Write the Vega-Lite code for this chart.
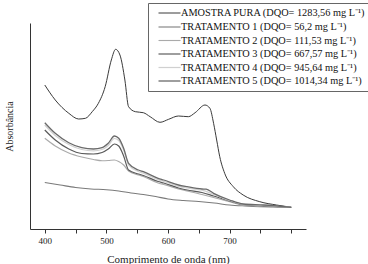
{
  "$schema": "https://vega.github.io/schema/vega-lite/v6.json",
  "width": 276,
  "height": 206,
  "autosize": "none",
  "padding": {"left": 30, "top": 23, "right": 62, "bottom": 35},
  "background": "white",
  "config": {
    "view": {"stroke": null},
    "font": "Liberation Serif",
    "axis": {"domainColor": "#333", "tickColor": "#333", "labelColor": "#222", "titleColor": "#222", "grid": false, "labelFont": "Liberation Serif", "titleFont": "Liberation Serif", "titleFontWeight": "normal"}
  },
  "data": {
    "values": [
      {"s": "A", "nm": 400, "v": 1.44}, {"s": "A", "nm": 417, "v": 1.29}, {"s": "A", "nm": 439, "v": 1.157}, {"s": "A", "nm": 455, "v": 1.10}, {"s": "A", "nm": 466, "v": 1.107}, {"s": "A", "nm": 477, "v": 1.173}, {"s": "A", "nm": 487, "v": 1.257}, {"s": "A", "nm": 498, "v": 1.423}, {"s": "A", "nm": 508, "v": 1.69}, {"s": "A", "nm": 515, "v": 1.797}, {"s": "A", "nm": 522, "v": 1.74}, {"s": "A", "nm": 530, "v": 1.49}, {"s": "A", "nm": 536, "v": 1.223}, {"s": "A", "nm": 547, "v": 1.173}, {"s": "A", "nm": 560, "v": 1.163}, {"s": "A", "nm": 571, "v": 1.123}, {"s": "A", "nm": 587, "v": 1.067}, {"s": "A", "nm": 601, "v": 1.097}, {"s": "A", "nm": 617, "v": 1.13}, {"s": "A", "nm": 633, "v": 1.123}, {"s": "A", "nm": 644, "v": 1.163}, {"s": "A", "nm": 660, "v": 1.24}, {"s": "A", "nm": 668, "v": 1.207}, {"s": "A", "nm": 674, "v": 1.057}, {"s": "A", "nm": 679, "v": 0.89}, {"s": "A", "nm": 684, "v": 0.723}, {"s": "A", "nm": 692, "v": 0.557}, {"s": "A", "nm": 706, "v": 0.423}, {"s": "A", "nm": 722, "v": 0.34}, {"s": "A", "nm": 749, "v": 0.273}, {"s": "A", "nm": 776, "v": 0.24}, {"s": "A", "nm": 800, "v": 0.217},

      {"s": "T1", "nm": 400, "v": 0.465}, {"s": "T1", "nm": 425, "v": 0.44}, {"s": "T1", "nm": 450, "v": 0.415}, {"s": "T1", "nm": 475, "v": 0.40}, {"s": "T1", "nm": 500, "v": 0.393}, {"s": "T1", "nm": 520, "v": 0.38}, {"s": "T1", "nm": 540, "v": 0.36}, {"s": "T1", "nm": 560, "v": 0.345}, {"s": "T1", "nm": 580, "v": 0.325}, {"s": "T1", "nm": 600, "v": 0.30}, {"s": "T1", "nm": 625, "v": 0.285}, {"s": "T1", "nm": 650, "v": 0.275}, {"s": "T1", "nm": 675, "v": 0.26}, {"s": "T1", "nm": 700, "v": 0.24}, {"s": "T1", "nm": 725, "v": 0.23}, {"s": "T1", "nm": 750, "v": 0.223}, {"s": "T1", "nm": 775, "v": 0.22}, {"s": "T1", "nm": 800, "v": 0.217},

      {"s": "T2", "nm": 400, "v": 0.907}, {"s": "T2", "nm": 417, "v": 0.83}, {"s": "T2", "nm": 439, "v": 0.76}, {"s": "T2", "nm": 460, "v": 0.72}, {"s": "T2", "nm": 479, "v": 0.695}, {"s": "T2", "nm": 493, "v": 0.683}, {"s": "T2", "nm": 503, "v": 0.685}, {"s": "T2", "nm": 513, "v": 0.69}, {"s": "T2", "nm": 520, "v": 0.675}, {"s": "T2", "nm": 528, "v": 0.64}, {"s": "T2", "nm": 536, "v": 0.58}, {"s": "T2", "nm": 552, "v": 0.54}, {"s": "T2", "nm": 560, "v": 0.525}, {"s": "T2", "nm": 584, "v": 0.46}, {"s": "T2", "nm": 593, "v": 0.445}, {"s": "T2", "nm": 617, "v": 0.40}, {"s": "T2", "nm": 631, "v": 0.38}, {"s": "T2", "nm": 655, "v": 0.345}, {"s": "T2", "nm": 674, "v": 0.315}, {"s": "T2", "nm": 700, "v": 0.273}, {"s": "T2", "nm": 722, "v": 0.24}, {"s": "T2", "nm": 755, "v": 0.228}, {"s": "T2", "nm": 800, "v": 0.217},

      {"s": "T3", "nm": 400, "v": 0.99}, {"s": "T3", "nm": 417, "v": 0.89}, {"s": "T3", "nm": 439, "v": 0.80}, {"s": "T3", "nm": 460, "v": 0.755}, {"s": "T3", "nm": 479, "v": 0.75}, {"s": "T3", "nm": 493, "v": 0.765}, {"s": "T3", "nm": 503, "v": 0.80}, {"s": "T3", "nm": 513, "v": 0.85}, {"s": "T3", "nm": 520, "v": 0.83}, {"s": "T3", "nm": 528, "v": 0.73}, {"s": "T3", "nm": 536, "v": 0.59}, {"s": "T3", "nm": 552, "v": 0.55}, {"s": "T3", "nm": 560, "v": 0.535}, {"s": "T3", "nm": 584, "v": 0.475}, {"s": "T3", "nm": 593, "v": 0.46}, {"s": "T3", "nm": 617, "v": 0.41}, {"s": "T3", "nm": 631, "v": 0.39}, {"s": "T3", "nm": 655, "v": 0.365}, {"s": "T3", "nm": 674, "v": 0.33}, {"s": "T3", "nm": 700, "v": 0.28}, {"s": "T3", "nm": 722, "v": 0.245}, {"s": "T3", "nm": 755, "v": 0.232}, {"s": "T3", "nm": 800, "v": 0.217},

      {"s": "T4", "nm": 400, "v": 1.04}, {"s": "T4", "nm": 417, "v": 0.935}, {"s": "T4", "nm": 439, "v": 0.845}, {"s": "T4", "nm": 460, "v": 0.795}, {"s": "T4", "nm": 479, "v": 0.782}, {"s": "T4", "nm": 493, "v": 0.795}, {"s": "T4", "nm": 503, "v": 0.835}, {"s": "T4", "nm": 513, "v": 0.905}, {"s": "T4", "nm": 520, "v": 0.885}, {"s": "T4", "nm": 528, "v": 0.79}, {"s": "T4", "nm": 536, "v": 0.64}, {"s": "T4", "nm": 552, "v": 0.575}, {"s": "T4", "nm": 560, "v": 0.558}, {"s": "T4", "nm": 584, "v": 0.493}, {"s": "T4", "nm": 593, "v": 0.477}, {"s": "T4", "nm": 617, "v": 0.427}, {"s": "T4", "nm": 631, "v": 0.41}, {"s": "T4", "nm": 655, "v": 0.388}, {"s": "T4", "nm": 674, "v": 0.347}, {"s": "T4", "nm": 700, "v": 0.285}, {"s": "T4", "nm": 722, "v": 0.248}, {"s": "T4", "nm": 755, "v": 0.236}, {"s": "T4", "nm": 800, "v": 0.217},

      {"s": "T5", "nm": 400, "v": 1.063}, {"s": "T5", "nm": 417, "v": 0.957}, {"s": "T5", "nm": 439, "v": 0.863}, {"s": "T5", "nm": 460, "v": 0.813}, {"s": "T5", "nm": 479, "v": 0.80}, {"s": "T5", "nm": 493, "v": 0.813}, {"s": "T5", "nm": 503, "v": 0.857}, {"s": "T5", "nm": 513, "v": 0.93}, {"s": "T5", "nm": 520, "v": 0.907}, {"s": "T5", "nm": 528, "v": 0.807}, {"s": "T5", "nm": 536, "v": 0.657}, {"s": "T5", "nm": 552, "v": 0.59}, {"s": "T5", "nm": 560, "v": 0.573}, {"s": "T5", "nm": 584, "v": 0.507}, {"s": "T5", "nm": 593, "v": 0.49}, {"s": "T5", "nm": 617, "v": 0.44}, {"s": "T5", "nm": 631, "v": 0.423}, {"s": "T5", "nm": 655, "v": 0.40}, {"s": "T5", "nm": 662, "v": 0.398}, {"s": "T5", "nm": 674, "v": 0.357}, {"s": "T5", "nm": 700, "v": 0.29}, {"s": "T5", "nm": 722, "v": 0.25}, {"s": "T5", "nm": 755, "v": 0.24}, {"s": "T5", "nm": 800, "v": 0.217}
    ]
  },
  "transform": [
    {"lookup": "s", "from": {"data": {"values": [
      {"s": "A", "label": "AMOSTRA PURA (DQO= 1283,56 mg L⁻¹)"},
      {"s": "T1", "label": "TRATAMENTO 1 (DQO= 56,2 mg L⁻¹)"},
      {"s": "T2", "label": "TRATAMENTO 2 (DQO= 111,53 mg L⁻¹)"},
      {"s": "T3", "label": "TRATAMENTO 3 (DQO= 667,57 mg L⁻¹)"},
      {"s": "T4", "label": "TRATAMENTO 4 (DQO= 945,64 mg L⁻¹)"},
      {"s": "T5", "label": "TRATAMENTO 5 (DQO= 1014,34 mg L⁻¹)"}
    ]}, "key": "s", "fields": ["label"]}}
  ],
  "mark": {"type": "line", "interpolate": "monotone"},
  "encoding": {
    "x": {
      "field": "nm", "type": "quantitative",
      "scale": {"domain": [376, 824], "nice": false, "zero": false},
      "axis": {"values": [400, 450, 500, 550, 600, 650, 700, 750, 800], "labelExpr": "datum.value % 100 === 0 && datum.value < 800 ? datum.label : ''", "tickSize": 4, "labelFontSize": 9, "labelPadding": 3, "title": "Comprimento de onda (nm)", "titleFontSize": 11, "titlePadding": 8}
    },
    "y": {
      "field": "v", "type": "quantitative",
      "scale": {"domain": [0, 2.06], "nice": false},
      "axis": {"ticks": false, "labels": false, "title": "Absorbância", "titleFontSize": 10, "titlePadding": 16}
    },
    "color": {
      "field": "label", "type": "nominal",
      "scale": {
        "domain": ["AMOSTRA PURA (DQO= 1283,56 mg L⁻¹)", "TRATAMENTO 1 (DQO= 56,2 mg L⁻¹)", "TRATAMENTO 2 (DQO= 111,53 mg L⁻¹)", "TRATAMENTO 3 (DQO= 667,57 mg L⁻¹)", "TRATAMENTO 4 (DQO= 945,64 mg L⁻¹)", "TRATAMENTO 5 (DQO= 1014,34 mg L⁻¹)"],
        "range": ["#3a3a3a", "#7a7a7a", "#aaaaaa", "#5a5a5a", "#d0d0d0", "#6a6a6a"]
      },
      "legend": {
        "title": null, "orient": "none", "legendX": 118, "legendY": -20,
        "symbolType": "M-2,0H2", "symbolSize": 121, "symbolStrokeWidth": 1.3, "symbolFillColor": "transparent",
        "labelFont": "Liberation Serif", "labelFontSize": 10.3, "labelColor": "#111",
        "labelLimit": 300, "rowPadding": 1.5, "labelOffset": 5, "symbolOffset": 11,
        "strokeColor": "#666", "padding": 4, "fillColor": "white"
      }
    },
    "strokeWidth": {
      "field": "label", "type": "nominal",
      "scale": {
        "domain": ["AMOSTRA PURA (DQO= 1283,56 mg L⁻¹)", "TRATAMENTO 1 (DQO= 56,2 mg L⁻¹)", "TRATAMENTO 2 (DQO= 111,53 mg L⁻¹)", "TRATAMENTO 3 (DQO= 667,57 mg L⁻¹)", "TRATAMENTO 4 (DQO= 945,64 mg L⁻¹)", "TRATAMENTO 5 (DQO= 1014,34 mg L⁻¹)"],
        "range": [1, 1.3, 1, 1.8, 1, 1]
      },
      "legend": null
    }
  }
}
